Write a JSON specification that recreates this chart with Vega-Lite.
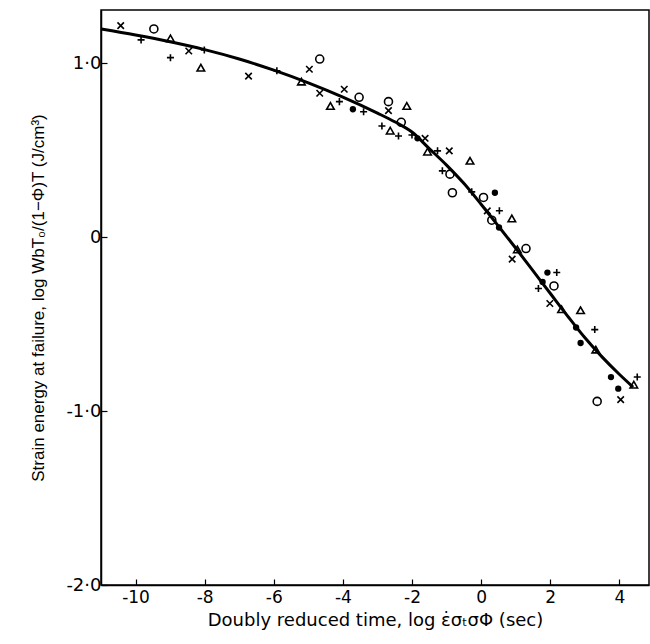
{
  "$schema": "https://vega.github.io/schema/vega-lite/v6.json",
  "autosize": {"type": "none"},
  "padding": {"left": 101, "top": 10, "right": 1, "bottom": 59},
  "width": 548,
  "height": 575,
  "background": "white",
  "config": {
    "view": {"stroke": "black", "strokeWidth": 1.5},
    "font": "Liberation Sans",
    "axis": {"grid": false, "domainColor": "black", "tickColor": "black", "labelColor": "black", "titleColor": "black", "titleFontWeight": "normal", "labelFont": "DejaVu Sans", "titleFont": "Liberation Sans"}
  },
  "datasets": {
    "curve": [
      {"x": -11.0, "y": 1.198},
      {"x": -10.0, "y": 1.163},
      {"x": -9.0, "y": 1.124},
      {"x": -8.0, "y": 1.079},
      {"x": -7.0, "y": 1.025},
      {"x": -6.0, "y": 0.961},
      {"x": -5.0, "y": 0.888},
      {"x": -4.0, "y": 0.806},
      {"x": -3.0, "y": 0.714},
      {"x": -2.5, "y": 0.664},
      {"x": -2.0, "y": 0.605},
      {"x": -1.5, "y": 0.51},
      {"x": -1.0, "y": 0.415},
      {"x": -0.5, "y": 0.31},
      {"x": 0.0, "y": 0.19},
      {"x": 0.5, "y": 0.065},
      {"x": 1.0, "y": -0.062},
      {"x": 1.5, "y": -0.192},
      {"x": 2.0, "y": -0.322},
      {"x": 2.5, "y": -0.452},
      {"x": 3.0, "y": -0.577},
      {"x": 3.5, "y": -0.688},
      {"x": 4.0, "y": -0.788},
      {"x": 4.4, "y": -0.862}
    ],
    "pts": [
      {"x": -10.43, "y": 1.217, "s": "x"},
      {"x": -9.47, "y": 1.198, "s": "open"},
      {"x": -9.84, "y": 1.135, "s": "plus"},
      {"x": -8.99, "y": 1.144, "s": "tri"},
      {"x": -8.99, "y": 1.033, "s": "plus"},
      {"x": -8.46, "y": 1.071, "s": "x"},
      {"x": -8.01, "y": 1.077, "s": "plus"},
      {"x": -8.11, "y": 0.975, "s": "tri"},
      {"x": -6.73, "y": 0.927, "s": "x"},
      {"x": -5.91, "y": 0.958, "s": "plus"},
      {"x": -4.67, "y": 1.025, "s": "open"},
      {"x": -4.97, "y": 0.966, "s": "x"},
      {"x": -5.20, "y": 0.895, "s": "tri"},
      {"x": -4.67, "y": 0.828, "s": "x"},
      {"x": -3.96, "y": 0.851, "s": "x"},
      {"x": -4.36, "y": 0.755, "s": "tri"},
      {"x": -4.10, "y": 0.780, "s": "plus"},
      {"x": -3.53, "y": 0.805, "s": "open"},
      {"x": -3.71, "y": 0.736, "s": "filled"},
      {"x": -3.40, "y": 0.722, "s": "plus"},
      {"x": -2.68, "y": 0.780, "s": "open"},
      {"x": -2.68, "y": 0.728, "s": "x"},
      {"x": -2.15, "y": 0.755, "s": "tri"},
      {"x": -2.31, "y": 0.661, "s": "open"},
      {"x": -2.87, "y": 0.640, "s": "plus"},
      {"x": -2.63, "y": 0.613, "s": "tri"},
      {"x": -2.39, "y": 0.582, "s": "plus"},
      {"x": -2.00, "y": 0.588, "s": "plus"},
      {"x": -1.84, "y": 0.569, "s": "filled"},
      {"x": -1.62, "y": 0.569, "s": "x"},
      {"x": -1.55, "y": 0.492, "s": "tri"},
      {"x": -1.26, "y": 0.497, "s": "plus"},
      {"x": -0.92, "y": 0.497, "s": "x"},
      {"x": -0.32, "y": 0.440, "s": "tri"},
      {"x": -1.12, "y": 0.382, "s": "plus"},
      {"x": -0.90, "y": 0.363, "s": "open"},
      {"x": -0.83, "y": 0.256, "s": "open"},
      {"x": -0.27, "y": 0.261, "s": "plus"},
      {"x": 0.07, "y": 0.229, "s": "open"},
      {"x": 0.40, "y": 0.256, "s": "filled"},
      {"x": 0.18, "y": 0.152, "s": "x"},
      {"x": 0.53, "y": 0.152, "s": "plus"},
      {"x": 0.31, "y": 0.098, "s": "open"},
      {"x": 0.52, "y": 0.056, "s": "filled"},
      {"x": 0.89, "y": 0.108, "s": "tri"},
      {"x": 1.05, "y": -0.070, "s": "tri"},
      {"x": 1.30, "y": -0.065, "s": "open"},
      {"x": 0.90, "y": -0.126, "s": "x"},
      {"x": 1.92, "y": -0.203, "s": "filled"},
      {"x": 2.19, "y": -0.203, "s": "plus"},
      {"x": 1.78, "y": -0.257, "s": "filled"},
      {"x": 1.66, "y": -0.295, "s": "plus"},
      {"x": 2.11, "y": -0.280, "s": "open"},
      {"x": 1.99, "y": -0.381, "s": "x"},
      {"x": 2.33, "y": -0.414, "s": "tri"},
      {"x": 2.88, "y": -0.420, "s": "tri"},
      {"x": 2.75, "y": -0.519, "s": "filled"},
      {"x": 3.29, "y": -0.531, "s": "plus"},
      {"x": 2.88, "y": -0.608, "s": "filled"},
      {"x": 3.32, "y": -0.646, "s": "tri"},
      {"x": 3.76, "y": -0.804, "s": "filled"},
      {"x": 3.97, "y": -0.871, "s": "filled"},
      {"x": 4.52, "y": -0.804, "s": "plus"},
      {"x": 4.42, "y": -0.848, "s": "tri"},
      {"x": 3.36, "y": -0.944, "s": "open"},
      {"x": 4.04, "y": -0.934, "s": "x"}
    ]
  },
  "encoding": {
    "x": {
      "field": "x", "type": "quantitative",
      "scale": {"domain": [-11, 4.86], "nice": false, "zero": false},
      "axis": {
        "values": [-10, -8, -6, -4, -2, 0, 2, 4],
        "tickSize": -6, "tickWidth": 1.2, "domainWidth": 1.5,
        "labelFontSize": 17, "labelPadding": 10,
        "labelExpr": "replace(format(datum.value, 'd'), '−', '-')",
        "title": "Doubly reduced time, log ε̇σₜσΦ (sec)",
        "titleFont": "DejaVu Sans",
        "titleFontSize": 18, "titlePadding": 6
      }
    },
    "y": {
      "field": "y", "type": "quantitative",
      "scale": {"domain": [-2, 1.307], "nice": false, "zero": false},
      "axis": {
        "values": [-2, -1, 0, 1],
        "tickSize": -6, "tickWidth": 1.2, "domainWidth": 1.5,
        "labelFontSize": 18, "labelPadding": 6,
        "labelExpr": "datum.value == 0 ? '0' : replace(replace(format(datum.value, '.1f'), '.', '·'), '−', '-')",
        "title": "Strain energy at failure, log WbT₀/(1−Φ)T (J/cm³)",
        "titleFontSize": 17, "titlePadding": 18
      }
    }
  },
  "layer": [
    {
      "data": {"name": "curve"},
      "mark": {"type": "line", "color": "black", "strokeWidth": 3, "interpolate": "monotone"}
    },
    {
      "data": {"name": "pts"},
      "transform": [{"filter": "datum.s != 'filled'"}],
      "mark": {"type": "point", "filled": false, "stroke": "black", "strokeWidth": 1.6, "opacity": 1},
      "encoding": {
        "shape": {
          "field": "s", "type": "nominal", "legend": null,
          "scale": {"domain": ["x", "plus", "tri", "open"], "range": ["M-1,-1L1,1M-1,1L1,-1", "M-1,0L1,0M0,-1L0,1", "triangle-up", "circle"]}
        },
        "size": {
          "field": "s", "type": "nominal", "legend": null,
          "scale": {"domain": ["x", "plus", "tri", "open"], "range": [42, 64, 40, 42]}
        }
      }
    },
    {
      "data": {"name": "pts"},
      "transform": [{"filter": "datum.s == 'filled'"}],
      "mark": {"type": "circle", "color": "black", "size": 40, "opacity": 1}
    }
  ]
}
